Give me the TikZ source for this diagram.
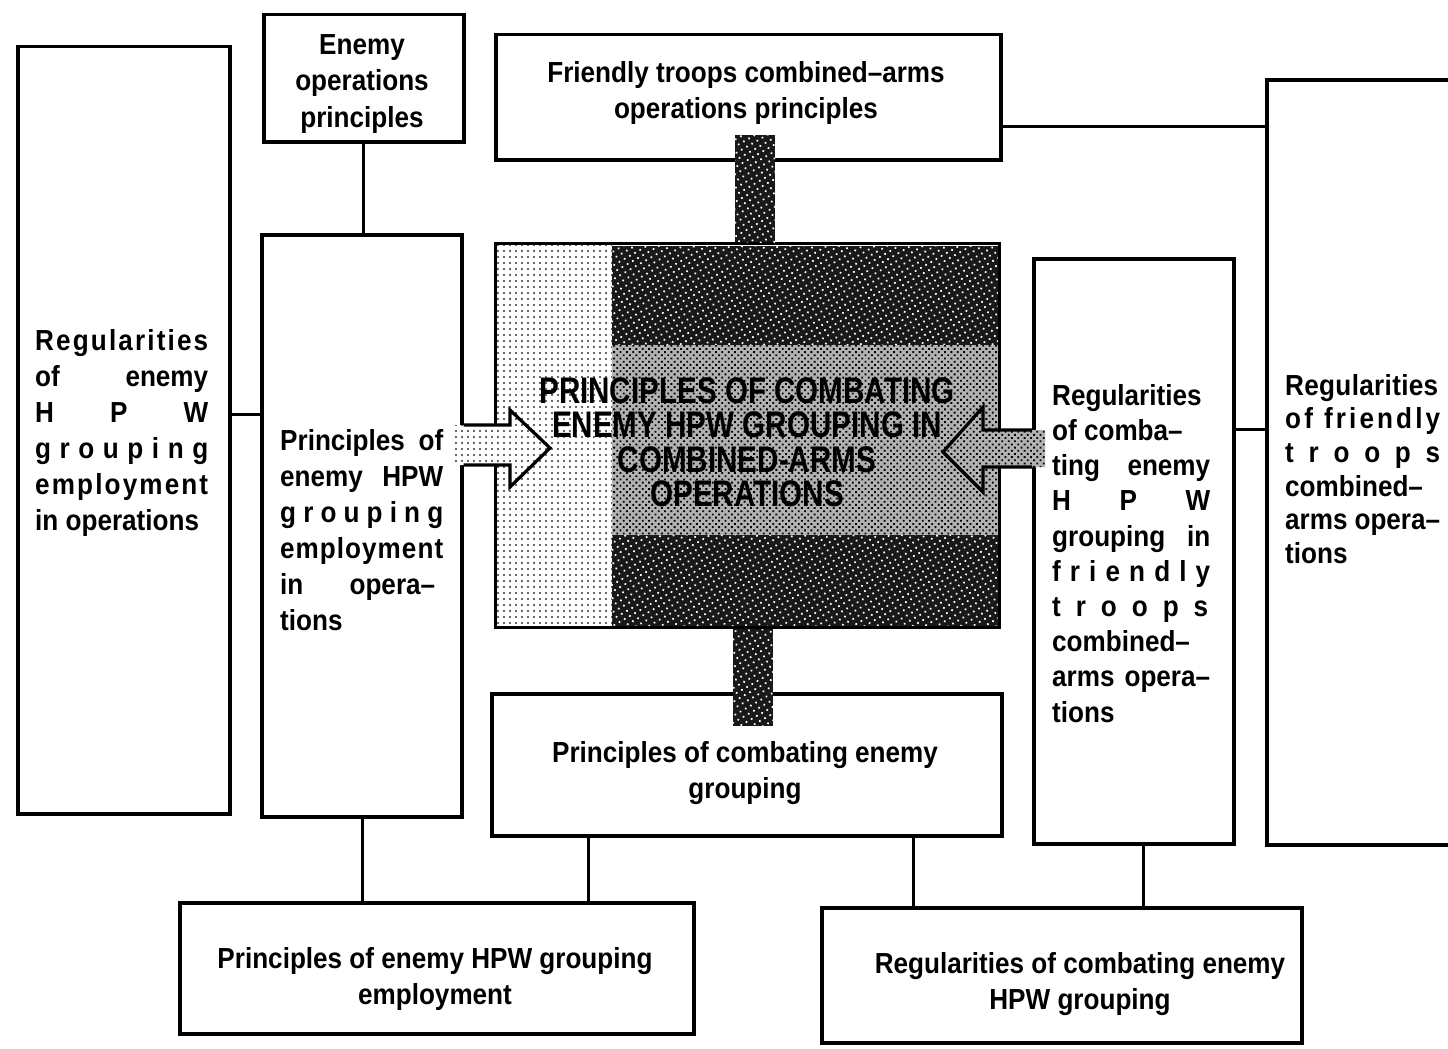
\documentclass[tikz,border=0pt]{standalone}
\usepackage{fontspec}
\setmainfont{Liberation Sans}[FakeStretch=0.9]
\newfontfamily\titlefont{Liberation Sans}[FakeStretch=0.8]
\usetikzlibrary{patterns.meta}

% one justified line of a narrow column
\newcommand\jline[2]{\makebox[#1][s]{#2}}

\tikzset{
  boxline/.style={draw, line width=3.5pt, fill=white, inner sep=0pt, rectangle},
  wire/.style={line width=3pt},
  txt/.style={font=\bfseries\fontsize{29}{36}\selectfont, inner sep=0pt, align=left},
  ctxt/.style={font=\bfseries\fontsize{29}{36}\selectfont, inner sep=0pt, align=center},
  lightarea/.style={preaction={fill=white}, pattern={Dots[distance=6pt,radius=1.1pt]}, pattern color=black!80},
  midarea/.style={preaction={fill=black!30}, pattern={Dots[distance=4.5pt,radius=1.3pt,angle=45]}, pattern color=black},
  darkarea/.style={preaction={fill=black!90}, pattern={Dots[distance=6pt,radius=1.2pt,angle=30]}, pattern color=white},
  outline/.style={line width=3.2pt, line join=miter},
  headline/.style={font=\titlefont\bfseries\fontsize{37}{34.5}\selectfont, inner sep=0pt, align=center}
}

\begin{document}
\begin{tikzpicture}[x=1pt,y=-1pt]
\useasboundingbox (0,0) rectangle (1448,1049);

% ---------- frames ----------
\node[boxline, anchor=north west, minimum width=212pt, minimum height=767pt] (L)  at (16,45)   {};
\node[boxline, anchor=north west, minimum width=200pt, minimum height=127pt] (EO) at (262,13)  {};
\node[boxline, anchor=north west, minimum width=200pt, minimum height=582pt] (PE) at (260,233) {};
\node[boxline, anchor=north west, minimum width=505pt, minimum height=125pt] (FT) at (494,33)  {};
\node[boxline, anchor=north west, minimum width=510pt, minimum height=142pt] (CB) at (490,692) {};
\node[boxline, anchor=north west, minimum width=200pt, minimum height=585pt] (RC) at (1032,257) {};
\node[boxline, anchor=north west, minimum width=215pt, minimum height=765pt] (RF) at (1265,78) {};
\node[boxline, anchor=north west, minimum width=514pt, minimum height=131pt] (BL) at (178,901) {};
\node[boxline, anchor=north west, minimum width=480pt, minimum height=135pt] (BR) at (820,906) {};

% ---------- thin connectors ----------
\coordinate (yA) at (0,414);
\coordinate (yB) at (0,126);
\coordinate (yC) at (0,429);
\coordinate (xA) at (362,0);
\coordinate (xB) at (588,0);
\coordinate (xC) at (913,0);
\coordinate (xD) at (1143,0);
\draw[wire] (EO.south) -- (EO.south |- PE.north);
\draw[wire] (L.east |- yA) -- (PE.west |- yA);
\draw[wire] (FT.east |- yB) -- (RF.west |- yB);
\draw[wire] (RC.east |- yC) -- (RF.west |- yC);
\draw[wire] (xA |- PE.south) -- (xA |- BL.north);
\draw[wire] (xB |- CB.south) -- (xB |- BL.north);
\draw[wire] (xC |- CB.south) -- (xC |- BR.north);
\draw[wire] (xD |- RC.south) -- (xD |- BR.north);

% ---------- central block ----------
\path[lightarea] (494,242) rectangle (612,626);
\path[darkarea]  (612,246) rectangle (998,345);
\path[midarea]   (612,345) rectangle (998,535);
\path[darkarea]  (612,535) rectangle (998,626);
\node[draw, outline, inner sep=0pt, anchor=north west, minimum width=504pt, minimum height=384pt] (core) at (494,242) {};

% broad bars joining the central block to the boxes above and below
\coordinate (barTop) at (735,135);
\coordinate (barTopR) at (775,0);
\coordinate (barBot) at (733,0);
\coordinate (barBotR) at (773,726);
\path[darkarea] (barTop) rectangle (barTopR |- core.north);
\path[darkarea] (barBot |- core.south) rectangle (barBotR);

% block arrow from the left column into the central block
\coordinate (la1) at (0,425);
\coordinate (la2) at (0,465);
\path[lightarea] (452,425) -- (510,425) -- (510,410) -- (550,448) -- (510,487) -- (510,465) -- (452,465) -- cycle;
\draw[outline] (PE.east |- la1) -- (510,425) -- (510,410) -- (550,448) -- (510,487) -- (510,465) -- (PE.east |- la2);

% block arrow from the right column into the central block
\coordinate (ra1) at (0,430);
\coordinate (ra2) at (0,467);
\path[midarea] (1045,430) -- (983,430) -- (983,407) -- (943,452) -- (983,492) -- (983,467) -- (1045,467) -- cycle;
\draw[outline] (RC.west |- ra1) -- (983,430) -- (983,407) -- (943,452) -- (983,492) -- (983,467) -- (RC.west |- ra2);

\node[headline, anchor=north] (title) at (747,377)
  {PRINCIPLES OF COMBATING\\ENEMY HPW GROUPING IN\\COMBINED-ARMS\\OPERATIONS};

% ---------- texts ----------
\node[ctxt, anchor=north, font=\bfseries\fontsize{29}{36.5}\selectfont] (EOt) at (362,34)
  {Enemy\\operations\\principles};
\node[ctxt, anchor=north] (FTt) at (746,61)
  {Friendly troops combined–arms\\operations principles};
\node[ctxt, anchor=north] (CBt) at (745,741)
  {Principles of combating enemy\\grouping};
\node[ctxt, anchor=north] (BLt) at (435,947)
  {Principles of enemy HPW grouping\\employment};
\node[ctxt, anchor=north] (BRt) at (1080,952)
  {Regularities of combating enemy\\HPW grouping};

\node[txt, anchor=north west] (Lt) at (35,329)
  {\jline{173pt}{R\hfill e\hfill g\hfill u\hfill l\hfill a\hfill r\hfill i\hfill t\hfill i\hfill e\hfill s}\\
   \jline{173pt}{of\hfill enemy}\\
   \jline{173pt}{H\hfill P\hfill W}\\
   \jline{173pt}{g\hfill r\hfill o\hfill u\hfill p\hfill i\hfill n\hfill g}\\
   \jline{173pt}{e\hfill m\hfill p\hfill l\hfill o\hfill y\hfill m\hfill e\hfill n\hfill t}\\
   in operations};

\node[txt, anchor=north west] (PEt) at (280,429)
  {\jline{163pt}{Principles\hfill of}\\
   \jline{163pt}{enemy\hfill HPW}\\
   \jline{163pt}{g\hfill r\hfill o\hfill u\hfill p\hfill i\hfill n\hfill g}\\
   \jline{163pt}{e\hfill m\hfill p\hfill l\hfill o\hfill y\hfill m\hfill e\hfill n\hfill t}\\
   \jline{155pt}{in\hfill opera–}\\
   tions};

\node[txt, anchor=north west, font=\bfseries\fontsize{29}{35.2}\selectfont] (RCt) at (1052,384)
  {Regularities\\
   of comba–\\
   \jline{158pt}{ting\hfill enemy}\\
   \jline{158pt}{H\hfill P\hfill W}\\
   \jline{158pt}{grouping\hfill in}\\
   \jline{158pt}{f\hfill r\hfill i\hfill e\hfill n\hfill d\hfill l\hfill y}\\
   \jline{156pt}{t\hfill r\hfill o\hfill o\hfill p\hfill s}\\
   combined–\\
   \jline{158pt}{arms\hfill opera–}\\
   tions};

\node[txt, anchor=north west, font=\bfseries\fontsize{29}{33.6}\selectfont] (RFt) at (1285,374)
  {\jline{153pt}{R\hfill e\hfill g\hfill u\hfill l\hfill a\hfill r\hfill i\hfill t\hfill i\hfill e\hfill s}\\
   \jline{155pt}{o\hfil f\hspace{8pt plus 1fil}f\hfil r\hfil i\hfil e\hfil n\hfil d\hfil l\hfil y}\\
   \jline{155pt}{t\hfill r\hfill o\hfill o\hfill p\hfill s}\\
   combined–\\
   \jline{155pt}{arms\hfill opera–}\\
   tions};
\end{tikzpicture}
\end{document}
